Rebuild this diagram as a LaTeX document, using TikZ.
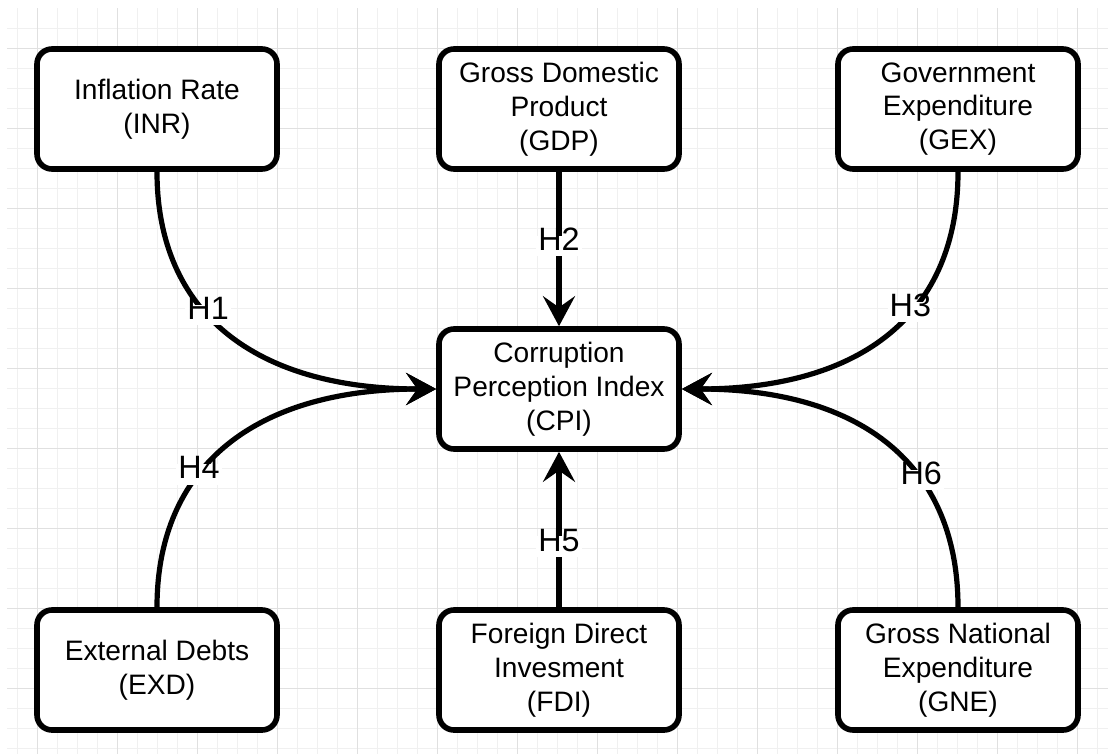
\documentclass[tikz,border=0pt]{standalone}
\usepackage{fontspec}
\setmainfont{Liberation Sans}
\usetikzlibrary{arrows.meta}
\definecolor{GridMinor}{HTML}{F0F0F0}
\definecolor{GridMajor}{HTML}{E0E0E0}

\begin{document}
\begin{tikzpicture}[x=0.25mm,y=-0.25mm,
    var/.style={draw,line width=1.4mm,rounded corners=3.75mm,fill=white,minimum width=60mm,minimum height=30mm,align=center,font=\fontsize{20}{24}\selectfont},
    link/.style={line width=1.3mm,-{Stealth[length=7.5mm,width=8mm,inset=2.8mm]}},
    hyp/.style={fill=white,inner sep=1.5pt,text height=0.9em,text depth=0.25em,font=\fontsize{23}{27}\selectfont}]
        \useasboundingbox (0,0) rectangle (1108,754);
        % grid
        \foreach \x in {17,37,...,1097} {\draw[GridMinor,line width=0.25mm] (\x,8)--(\x,754);}
        \foreach \y in {28,48,...,748} {\draw[GridMinor,line width=0.25mm] (7,\y)--(1108,\y);}
        \foreach \x in {37,117,...,1077} {\draw[GridMajor,line width=0.25mm] (\x,8)--(\x,754);}
        \foreach \y in {48,128,...,688} {\draw[GridMajor,line width=0.25mm] (7,\y)--(1108,\y);}
        % variables
        \node[var] (inr) at (157,109) {Inflation Rate\\(INR)};
        \node[var] (gdp) at (559,109) {Gross Domestic\\Product\\(GDP)};
        \node[var] (gex) at (958,109) {Government\\Expenditure\\(GEX)};
        \node[var] (cpi) at (559,389) {Corruption\\Perception Index\\(CPI)};
        \node[var] (exd) at (157,670) {External Debts\\(EXD)};
        \node[var] (fdi) at (559,670) {Foreign Direct\\Invesment\\(FDI)};
        \node[var] (gne) at (958,670) {Gross National\\Expenditure\\(GNE)};
        % hypotheses
        \draw[link] (inr.south) .. controls +(0,142) and +(-180,0) .. node[hyp,pos=0.42]{H1} (cpi.west);
        \draw[link] (gdp.south) -- node[hyp,pos=0.48]{H2} (cpi.north);
        \draw[link] (gex.south) .. controls +(0,142) and +(180,0) .. node[hyp,pos=0.41]{H3} (cpi.east);
        \draw[link] (exd.north) .. controls +(0,-142) and +(-180,0) .. node[hyp,pos=0.38]{H4} (cpi.west);
        \draw[link] (fdi.north) -- node[hyp,pos=0.39]{H5} (cpi.south);
        \draw[link] (gne.north) .. controls +(0,-142) and +(180,0) .. node[hyp,pos=0.36]{H6} (cpi.east);
      \end{tikzpicture}
\end{document}
